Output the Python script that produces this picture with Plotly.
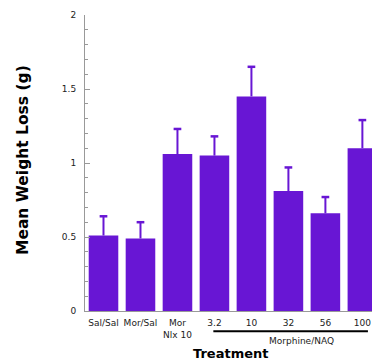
import plotly.graph_objects as go

categories = ["Sal/Sal", "Mor/Sal", "Mor<br>Nlx 10", "3.2", "10", "32", "56", "100"]
means = [0.51, 0.49, 1.06, 1.05, 1.45, 0.81, 0.66, 1.10]
errors = [0.13, 0.11, 0.17, 0.13, 0.20, 0.16, 0.11, 0.19]
y_ticks = [0, 0.5, 1, 1.5, 2]
y_ticklabels = ["0", "0.5", "1", "1.5", "2"]

bar_color = "#6816d4"
font_family = "Comic Sans MS, DejaVu Sans, sans-serif"

x_idx = list(range(len(categories)))

fig = go.Figure(
    go.Bar(
        x=x_idx,
        y=means,
        width=0.8,
        marker=dict(color=bar_color, line=dict(width=0)),
    )
)

# upper-only error bars: stem from bar top to mean+error, with a cap at the top
err_x, err_y = [], []
for i, m, e in zip(x_idx, means, errors):
    err_x += [i, i, None]
    err_y += [m, m + e, None]
fig.add_trace(go.Scatter(x=err_x, y=err_y, mode="lines",
                         line=dict(color=bar_color, width=2), hoverinfo="skip"))
fig.add_trace(go.Scatter(x=x_idx, y=[m + e for m, e in zip(means, errors)], mode="markers",
                         marker=dict(symbol="line-ew", size=5.5, line=dict(color=bar_color, width=2.5)),
                         hoverinfo="skip", cliponaxis=False))

fig.update_layout(
    width=372,
    height=362,
    margin=dict(l=85, r=0, t=15, b=51),
    paper_bgcolor="white",
    plot_bgcolor="white",
    showlegend=False,
    font=dict(family=font_family, color="#222222", size=9),
    bargap=0.2,
)

fig.update_xaxes(
    range=[-0.5, 7.26],
    tickmode="array",
    tickvals=x_idx,
    ticktext=categories,
    ticks="",
    showgrid=False,
    zeroline=False,
    showline=True,
    linecolor="#999999",
    linewidth=1,
    ticklabelstandoff=3,
    tickfont=dict(size=9, family=font_family, color="#222222"),
)

fig.update_yaxes(
    range=[0, 2],
    tickmode="array",
    tickvals=y_ticks,
    ticktext=y_ticklabels,
    ticks="inside",
    ticklen=5,
    tickcolor="#999999",
    showgrid=False,
    zeroline=False,
    showline=True,
    linecolor="#999999",
    linewidth=1,
    ticklabelstandoff=6,
    tickfont=dict(size=9, family=font_family, color="#222222"),
    minor=dict(dtick=0.1, ticks="inside", ticklen=3, tickcolor="#999999", showgrid=False),
)

# group line under Morphine/NAQ doses
fig.add_shape(type="line", xref="x", yref="paper", x0=2.97, x1=7.15, y0=-0.068, y1=-0.068,
              line=dict(color="black", width=2))
fig.add_annotation(text="Morphine/NAQ", xref="x", yref="paper", x=5.35, y=-0.1,
                   showarrow=False, xanchor="center", yanchor="middle",
                   font=dict(size=9, family=font_family, color="#222222"))
fig.add_annotation(text="<b>Treatment</b>", xref="paper", yref="paper", x=0.509, y=-0.145,
                   showarrow=False, xanchor="center", yanchor="middle",
                   font=dict(size=13, family=font_family, color="black"))
fig.add_annotation(text="<b>Mean Weight Loss (g)</b>", xref="paper", yref="paper", x=-0.216, y=0.51,
                   showarrow=False, xanchor="center", yanchor="middle", textangle=-90,
                   font=dict(size=15.5, family=font_family, color="black"))

fig.write_html("out.html")
